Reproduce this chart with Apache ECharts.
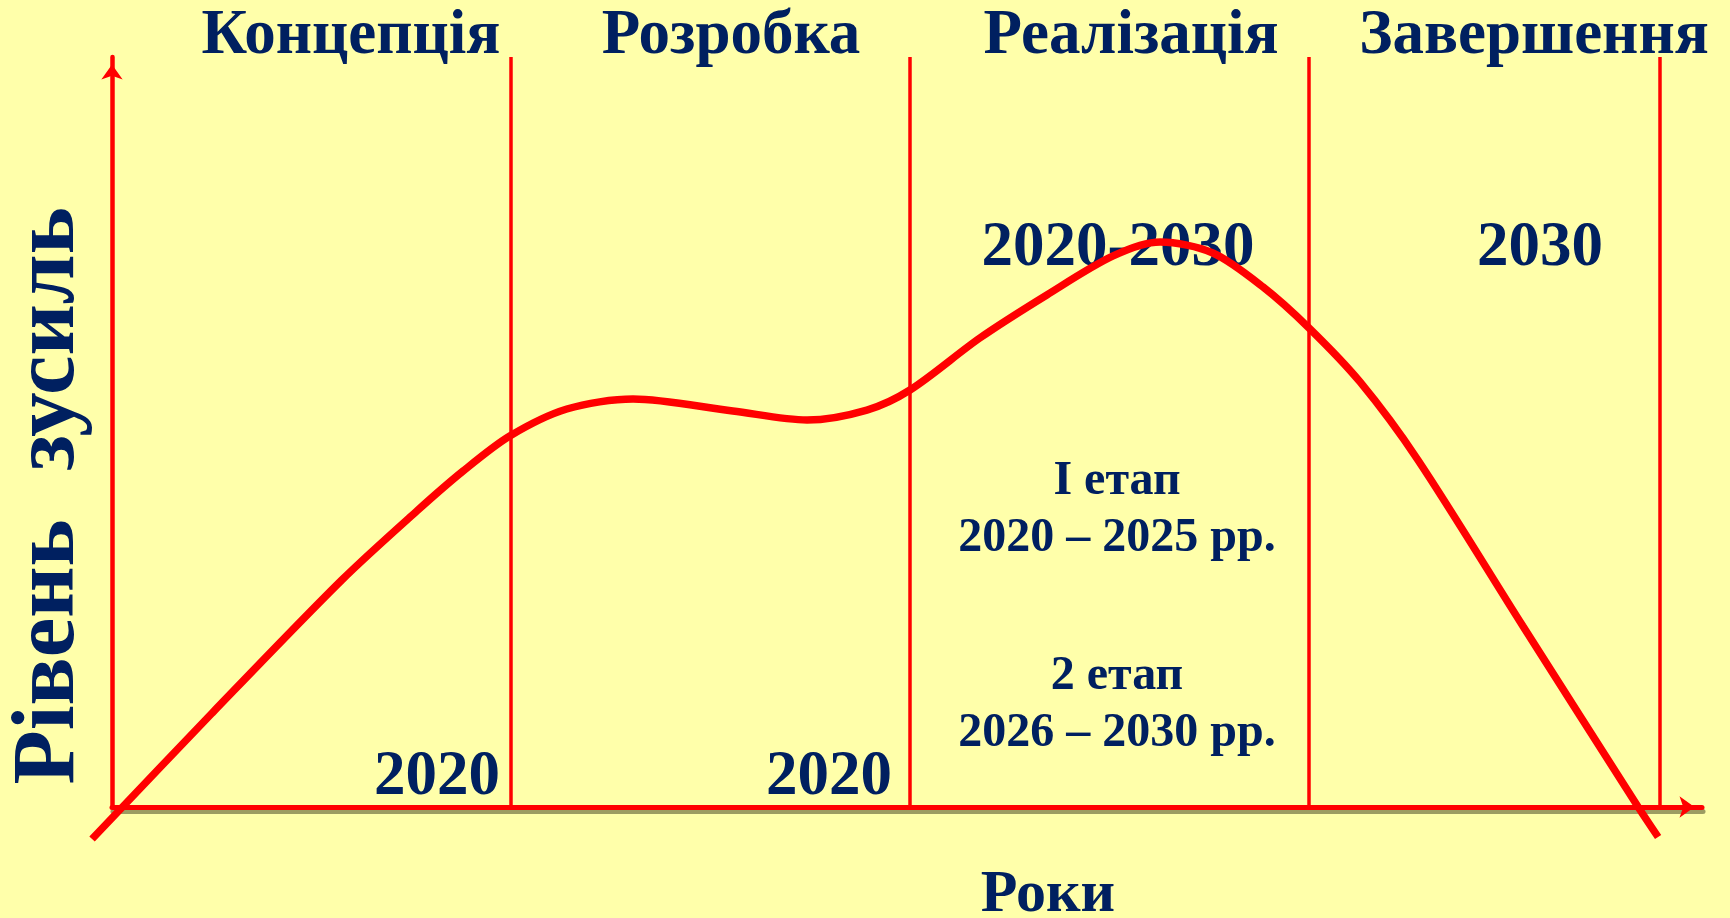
<!DOCTYPE html>
<html><head><meta charset="utf-8">
<script src="https://cdn.jsdelivr.net/npm/echarts@6/dist/echarts.min.js"></script>
<style>html,body{margin:0;padding:0;background:#FFFFAA}#c{width:1730px;height:918px}</style>
</head><body><div id="c"></div>
<script>
// ---- data ----
const stageNames = ['Концепція', 'Розробка', 'Реалізація', 'Завершення'];
const stageBounds = [1, 2, 3, 3.88];          // stage boundary lines (x units)
const periodLabels = ['2020', '2020', '2020-2030', '2030'];
const stageNotes = ['І етап', '2020 – 2025 рр.', '2 етап', '2026 – 2030 рр.'];
const yAxisTitle = ['Рівень', 'зусиль'];
const xAxisTitle = 'Роки';
const xMax = 3.985;
const yMax = 100;
const curveX = [-0.050, 0.251, 0.576, 0.764, 0.880, 0.997, 1.140, 1.306, 1.556, 1.742, 1.892, 2.000, 2.175, 2.343, 2.509, 2.627, 2.759, 2.885, 3.000, 3.128, 3.273, 3.536, 3.825, 3.875];
const curveY = [-4.27, 12.53, 30.27, 39.47, 44.8, 49.47, 53.07, 54.4, 52.8, 51.6, 52.93, 55.6, 62.53, 68.27, 73.47, 75.33, 73.87, 69.33, 63.87, 56.67, 46.27, 24.13, 0, -4.0];

// ---- styles / layout ----
const RED = '#FF0000';
const NAVY = '#002060';
const font = s => `bold ${s}px "Liberation Serif", "Times New Roman", serif`;
const G = { left: 112, right: 28, top: 57, bottom: 111 };
const W = 1730, H = 918;
const xPx = (W - G.left - G.right) / xMax;
const yPx = (H - G.top - G.bottom) / yMax;
const xMin1 = -0.08, yMin1 = -6;      // wider hidden grid so the curve may run past the axes
const titleX = [351, 731, 1131, 1534];
const periodPos = [[437, 778], [829, 778], [1118, 249], [1540, 249]];
const notePos = [[1117, 482], [1117, 539], [1117, 677], [1117, 734]];

function txt(t, x, y, size, rot) {
  return {
    type: 'text', x: x, y: y, rotation: rot || 0, z: 1,
    style: { text: t, font: font(size), fill: NAVY,
      align: 'center', textAlign: 'center', verticalAlign: 'middle', textVerticalAlign: 'middle' }
  };
}

const graphics = [];
stageNames.forEach((t, i) => graphics.push(txt(t, titleX[i], 37, 63)));
periodLabels.forEach((t, i) => graphics.push(txt(t, periodPos[i][0], periodPos[i][1], 63)));
stageNotes.forEach((t, i) => graphics.push(txt(t, notePos[i][0], notePos[i][1], 48)));
graphics.push(txt(xAxisTitle, 1048, 895, 60));
graphics.push(txt(yAxisTitle[0], 50, 652, 89, Math.PI / 2));
graphics.push(txt(yAxisTitle[1], 50, 339, 89, Math.PI / 2));

const hiddenAxis = { show: false, axisLine: { show: false }, axisTick: { show: false }, axisLabel: { show: false }, splitLine: { show: false } };

const chart = echarts.init(document.getElementById('c'), null, { renderer: 'canvas' });
chart.setOption({
  animation: false,
  backgroundColor: '#FFFFAA',
  grid: [
    { left: G.left, right: G.right, top: G.top, bottom: G.bottom, containLabel: false },
    { left: G.left + xMin1 * xPx, right: G.right, top: G.top, bottom: G.bottom + yMin1 * yPx, containLabel: false }
  ],
  xAxis: [{
    type: 'value', min: 0, max: xMax, gridIndex: 0,
    axisLine: { show: true, onZero: false, symbol: ['none', 'arrow'], symbolSize: [16, 15], symbolOffset: [0, -7.5],
      lineStyle: { color: RED, width: 5, shadowColor: 'rgba(90,90,50,0.6)', shadowOffsetY: 4, shadowOffsetX: 1 } },
    axisTick: { show: false }, axisLabel: { show: false }, splitLine: { show: false }
  }, Object.assign({ type: 'value', min: xMin1, max: xMax, gridIndex: 1 }, hiddenAxis)],
  yAxis: [{
    type: 'value', min: 0, max: yMax, gridIndex: 0,
    axisLine: { show: true, onZero: false, symbol: ['none', 'arrow'], symbolSize: [16, 15], symbolOffset: [0, -7.5],
      lineStyle: { color: RED, width: 4.5 } },
    axisTick: { show: false }, axisLabel: { show: false }, splitLine: { show: false }
  }, Object.assign({ type: 'value', min: yMin1, max: yMax, gridIndex: 1 }, hiddenAxis)],
  graphic: graphics,
  series: [{
    type: 'line', xAxisIndex: 1, yAxisIndex: 1, z: 5, clip: false, smooth: 0.3, smoothConstraint: false, symbol: 'none',
    data: curveX.map((x, i) => [x, curveY[i]]),
    lineStyle: { color: RED, width: 7.5 },
    markLine: {
      silent: true, symbol: ['none', 'none'], label: { show: false },
      lineStyle: { color: RED, width: 3.5, type: 'solid' },
      emphasis: { disabled: true },
      data: stageBounds.map(v => [{ coord: [v, 0] }, { coord: [v, yMax] }])
    }
  }]
});
</script></body></html>
